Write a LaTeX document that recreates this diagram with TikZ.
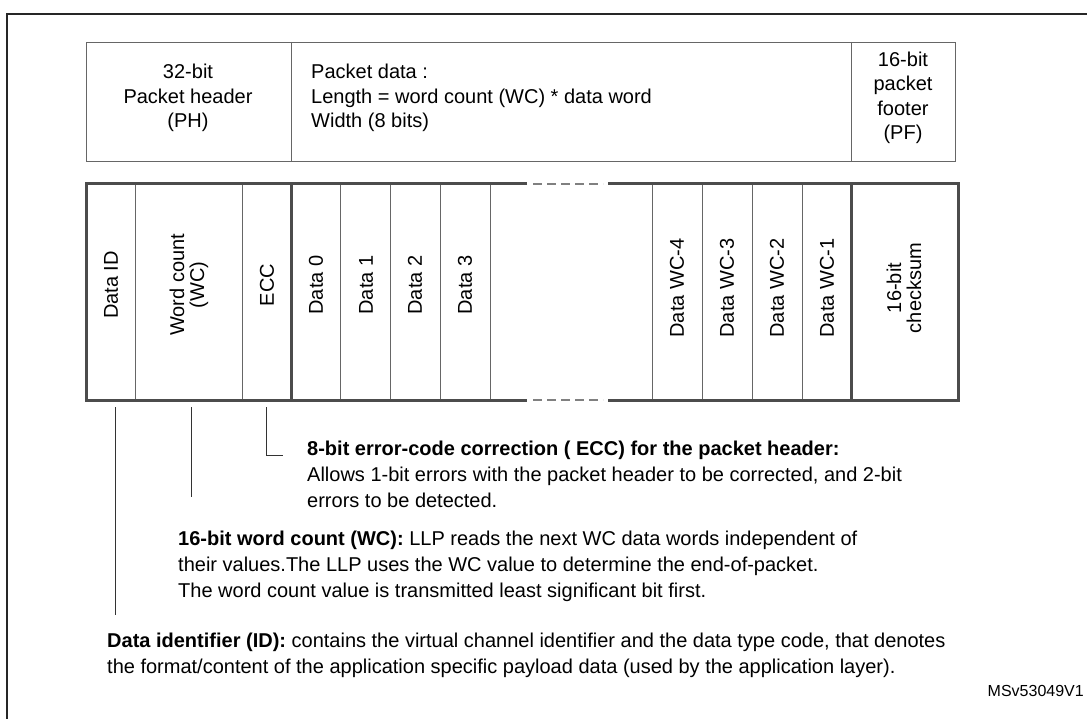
\documentclass[tikz,border=0pt]{standalone}
\usepackage{fontspec}
\setmainfont{Liberation Sans}
\begin{document}
\begin{tikzpicture}[x=1pt,y=-1pt,
  thin line/.style={draw=black!60,line width=0.8pt},
  thick line/.style={draw=black!70,line width=3pt},
  txt/.style={font=\fontsize{20}{26}\selectfont,inner sep=0pt},
  ttxt/.style={font=\fontsize{20}{24.5}\selectfont,inner sep=0pt},
  vt/.style={font=\fontsize{20}{20}\selectfont,rotate=90,align=center,inner sep=0pt},
  lead/.style={draw=black!80,line width=0.8pt}]
\useasboundingbox (0,0) rectangle (1087,719);
% frame
\draw[line width=2pt,black!85] (7,719) -- (7,14) -- (1087,14);
% top table
\draw[thin line] (86,42) rectangle (955,161);
\draw[thin line] (291,42) -- (291,161) (851,42) -- (851,161);
\node[ttxt,align=center] (ph) at (188,98) {32-bit\\Packet header\\(PH)};
\node[ttxt,align=left,anchor=west] (pd) at (311,98) {Packet data :\\Length = word count (WC) * data word\\Width (8 bits)};
\node[ttxt,align=center] (pf) at (903,98) {16-bit\\packet\\footer\\(PF)};
% bottom table
\foreach \x in {135,242,340,390,440,490,652,702,752,802}
  \draw[thin line] (\x,184) -- (\x,400);
\draw[thick line] (527,184) -- (86,184) -- (86,400) -- (527,400);
\draw[thick line] (608,184) -- (958,184) -- (958,400) -- (608,400);
\draw[thick line] (291,184) -- (291,400) (851,184) -- (851,400);
\draw[draw=black!50,line width=1.2pt,dash pattern=on 9pt off 5pt] (533,184) -- (603,184) (533,400) -- (603,400);
\node[vt] (did) at (111,285) {Data ID};
\node[vt] (wc) at (189,285) {Word count\\(WC)};
\node[vt] (ecc) at (267,285) {ECC};
\node[vt] (d0) at (316,285) {Data 0};
\node[vt] (d1) at (366,285) {Data 1};
\node[vt] (d2) at (415,285) {Data 2};
\node[vt] (d3) at (465,285) {Data 3};
\node[vt] (w4) at (677,288) {Data WC-4};
\node[vt] (w3) at (727,288) {Data WC-3};
\node[vt] (w2) at (777,288) {Data WC-2};
\node[vt] (w1) at (827,288) {Data WC-1};
\node[vt] (cs) at (904,288) {16-bit\\checksum};
% descriptions
\node[txt,align=left,anchor=north west] (eccd) at (307,441) {\textbf{8-bit error-code correction ( ECC) for the packet header:}\\Allows 1-bit errors with the packet header to be corrected, and 2-bit\\errors to be detected.};
\node[txt,align=left,anchor=north west] (wcd) at (178,531) {\textbf{16-bit word count (WC):} LLP reads the next WC data words independent of\\their values.The LLP uses the WC value to determine the end-of-packet.\\The word count value is transmitted least significant bit first.};
\node[txt,align=left,anchor=north west] (idd) at (107,633) {\textbf{Data identifier (ID):} contains the virtual channel identifier and the data type code, that denotes\\the format/content of the application specific payload data (used by the application layer).};
\node[font=\fontsize{16}{18}\selectfont,anchor=east,inner sep=0pt] (ms) at (1084,691) {MSv53049V1};
% leaders
\coordinate (a1) at (115,407); \coordinate (a2) at (115,615);
\coordinate (b1) at (191,407); \coordinate (b2) at (191,497);
\coordinate (c1) at (266,407); \coordinate (c2) at (266,455); \coordinate (c3) at (283,455);
\draw[lead] (a1) -- (a2);
\draw[lead] (b1) -- (b2);
\draw[lead] (c1) -- (c2) -- (c3);
\end{tikzpicture}
\end{document}
